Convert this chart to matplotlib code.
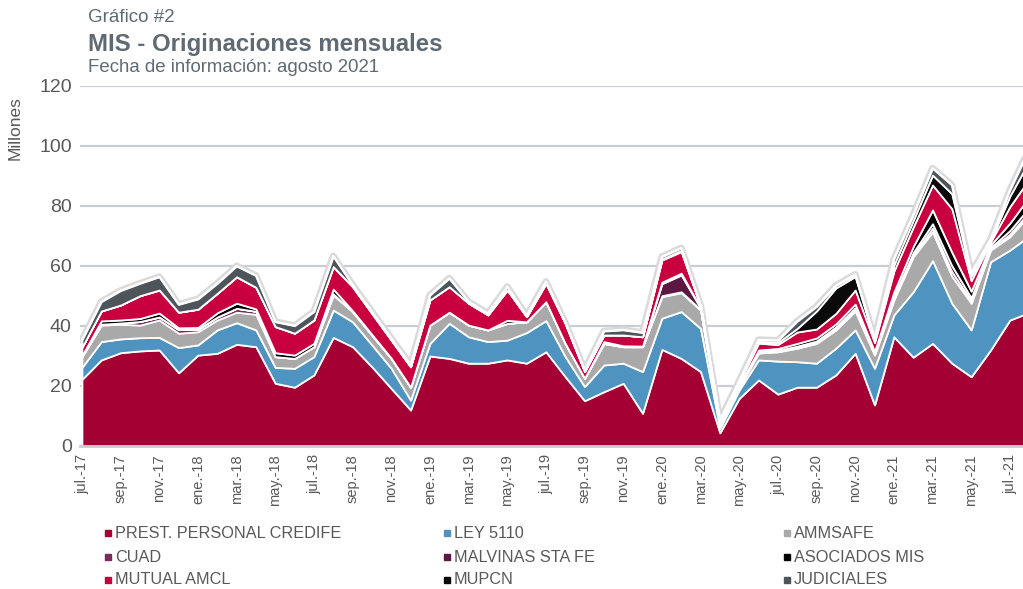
import matplotlib
matplotlib.use("Agg")
import matplotlib.pyplot as plt
from matplotlib.lines import Line2D
import numpy as np

plt.rcParams['font.family'] = ['Liberation Sans', 'DejaVu Sans']

# meses jul-17 .. ago-21
meses = ['ene', 'feb', 'mar', 'abr', 'may', 'jun', 'jul', 'ago', 'sep', 'oct', 'nov', 'dic']
etiquetas = []
for k in range(50):
    m = (6 + k) % 12
    a = 17 + (6 + k) // 12
    etiquetas.append(f"{meses[m]}.-{a}")

series = ['PREST. PERSONAL CREDIFE', 'LEY 5110', 'AMMSAFE', 'CUAD', 'MALVINAS STA FE',
          'ASOCIADOS MIS', 'MUTUAL AMCL', 'MUPCN', 'JUDICIALES']
colores = ['#A50034', '#4F93C1', '#A9A9A9', '#7A2A5C', '#5C1742',
           '#000000', '#C8003F', '#0A0A0A', '#4D555B']

credife = [22.2, 28.7, 31.1, 31.7, 32.0, 24.4, 30.3, 30.9, 33.9, 33.1,
           20.9, 19.6, 23.7, 36.2, 33.1, 26.4, 19.2, 12.0, 30.0, 29.2,
           27.6, 27.6, 28.7, 27.6, 31.4, 23.1, 15.1, 18.1, 20.9, 10.9,
           32.2, 29.2, 24.8, 4.4, 15.9, 22.0, 17.3, 19.6, 19.6, 23.7,
           30.9, 13.7, 36.4, 29.6, 34.2, 27.6, 23.1, 32.0, 42.0, 44.5]
ley5110 = [4.0, 6.1, 4.6, 4.4, 4.2, 8.4, 3.4, 7.8, 7.2, 5.6,
           5.3, 6.3, 6.1, 9.1, 8.3, 7.3, 6.7, 3.3, 4.2, 11.7,
           8.8, 7.2, 6.6, 10.2, 10.4, 6.7, 4.7, 8.9, 6.7, 13.9,
           10.4, 15.6, 14.4, 1.5, 2.8, 6.7, 11.0, 8.5, 8.0, 8.9,
           7.8, 12.2, 7.3, 21.8, 27.6, 20.0, 15.6, 29.4, 23.3, 25.5]
ammsafe = [3.6, 5.5, 4.9, 4.2, 5.8, 4.8, 4.4, 3.3, 3.5, 5.2,
           3.6, 3.3, 3.3, 5.0, 3.4, 3.3, 3.3, 4.3, 6.1, 3.7,
           3.9, 3.9, 5.6, 3.6, 6.3, 4.4, 2.8, 7.2, 5.5, 8.3,
           7.2, 6.3, 6.1, 1.4, 0.8, 2.3, 3.1, 4.5, 6.6, 6.1,
           6.3, 4.4, 5.0, 11.7, 9.6, 9.0, 8.9, 3.9, 4.5, 7.0]
cuad = [0, 0.3, 0.4, 1.2, 1.0, 1.2, 0.8, 1.0, 1.3, 1.0,
        0, 0, 0, 0.4, 0, 0, 0, 0, 0, 0,
        0, 0, 0, 0, 0, 0, 0, 0, 0, 0,
        0.3, 0.3, 0.2, 0, 0.2, 0.3, 0.2, 0.3, 0.4, 0.5,
        0.5, 0.3, 0.5, 0.6, 1.2, 1.5, 0.8, 0.4, 0.8, 1.0]
malvinas = [0, 0, 0, 0, 0, 0, 0, 0, 0, 0,
            0, 0, 0, 0, 0, 0, 0, 0, 0, 0,
            0, 0, 0, 0, 0, 0, 0, 0, 0, 0,
            4.0, 5.6, 0.5, 0, 0.2, 0.2, 0.3, 0.4, 0.4, 0.5,
            0.6, 0.3, 0.6, 0.8, 1.5, 2.0, 1.0, 0.5, 1.2, 1.5]
asociados = [0.3, 1.1, 1.0, 1.0, 1.3, 0.6, 0.6, 1.4, 1.7, 0.8,
             1.3, 1.1, 1.1, 1.6, 0.3, 0.2, 0.1, 0, 0, 0,
             0, 0, 1.0, 0, 0, 0, 0, 0.6, 0.3, 0.2,
             0.5, 0.6, 0.2, 0, 0.3, 0.5, 0.6, 0.9, 1.0, 1.0,
             1.2, 0.6, 1.5, 2.0, 4.6, 4.5, 2.2, 0.8, 2.5, 3.5]
mutual = [2.8, 3.3, 5.0, 7.6, 7.7, 5.2, 6.1, 6.5, 8.8, 7.2,
          8.7, 7.3, 7.8, 7.5, 8.0, 7.0, 6.0, 6.8, 8.4, 8.5,
          7.3, 5.0, 10.1, 1.7, 6.1, 6.7, 2.2, 2.2, 3.6, 3.1,
          7.4, 7.2, 0.4, 1.0, 1.0, 2.3, 1.3, 3.8, 3.0, 3.5,
          4.7, 3.0, 7.0, 6.5, 8.3, 14.5, 3.5, 1.0, 5.5, 6.0]
mupcn = [0, 0, 0, 0, 0, 0, 0, 0, 0, 0,
         0, 0, 0, 0, 0, 0, 0, 0, 0, 0,
         0, 0, 0, 0, 0, 0, 0, 0, 0, 0,
         0.3, 0.4, 0, 0, 0.2, 0.5, 0.7, 1.2, 6.0, 8.5,
         4.5, 0.7, 2.0, 2.2, 3.3, 5.0, 1.5, 0.4, 3.5, 6.0]
judiciales = [2.4, 3.1, 4.8, 4.1, 4.4, 2.6, 3.4, 3.3, 3.6, 3.9,
              1.6, 2.5, 2.8, 3.5, 0.6, 0.6, 0.6, 0.6, 1.6, 2.8,
              0.5, 0.5, 1.1, 0.3, 0.6, 0.2, 0.5, 1.3, 1.7, 1.4,
              0.8, 0.8, 0.3, 0.3, 0.3, 0.6, 0.7, 2.4, 1.5, 0.8,
              0.7, 0.6, 2.0, 1.8, 2.3, 2.9, 1.0, 0.5, 2.0, 4.0]

datos = [credife, ley5110, ammsafe, cuad, malvinas, asociados, mutual, mupcn, judiciales]

x = np.arange(len(credife))
total = np.sum(datos, axis=0)

fig = plt.figure(figsize=(10.23, 5.89), dpi=100)
ax = fig.add_axes([80 / 1023, 143 / 589, 943 / 1023, 360 / 589])

gris_txt = '#595959'

ax.plot(x, total, color='#DADADA', lw=5, zorder=1, solid_joinstyle='round')
ax.stackplot(x, *datos, colors=colores, edgecolor='white', linewidth=1.3, zorder=2)
ax.plot(x, total, color='white', lw=1.5, zorder=3)

ax.set_ylim(0, 120)
ax.set_xlim(-0.1, 48.68)
ax.set_yticks(range(0, 121, 20))
ax.grid(axis='y', color='#C9CDD1', lw=1.6, zorder=0)
ax.set_axisbelow(True)
for s in ['top', 'right', 'left']:
    ax.spines[s].set_visible(False)
ax.spines['bottom'].set_color('#C9CDD1')
ax.spines['bottom'].set_linewidth(2)
ax.tick_params(axis='y', length=0, labelsize=14, labelcolor=gris_txt, pad=6)
ax.set_xticks(x[::2])
ax.set_xticklabels(etiquetas[::2], rotation=90, fontsize=10.5, color=gris_txt)
ax.tick_params(axis='x', length=0, pad=6)

fig.text(15 / 1023, 1 - 128 / 589, 'Millones', rotation=90, fontsize=12.5,
         color=gris_txt, ha='center', va='center')

fig.text(88 / 1023, 1 - 17 / 589, 'Gráfico #2', fontsize=13.5, color='#5F6A72', va='center')
fig.text(88 / 1023, 1 - 44 / 589, 'MIS - Originaciones mensuales', fontsize=17.3,
         fontweight='bold', color='#5F6A72', va='center')
fig.text(88 / 1023, 1 - 67 / 589, 'Fecha de información: agosto 2021', fontsize=13.4,
         color='#5F6A72', va='center')

# leyenda manual, 3 columnas
col_x = [108, 447, 787]
fila_y = [533, 557, 580]
for i, (nombre, c) in enumerate(zip(series, colores)):
    px = col_x[i % 3]
    py = fila_y[i // 3]
    fig.add_artist(Line2D([px / 1023], [1 - py / 589], marker='s', ms=5, color=c,
                          lw=0, transform=fig.transFigure))
    fig.text((px + 7) / 1023, 1 - py / 589, nombre, fontsize=11.7, color=gris_txt,
             va='center', ha='left')

fig.savefig('out.png', dpi=100)
